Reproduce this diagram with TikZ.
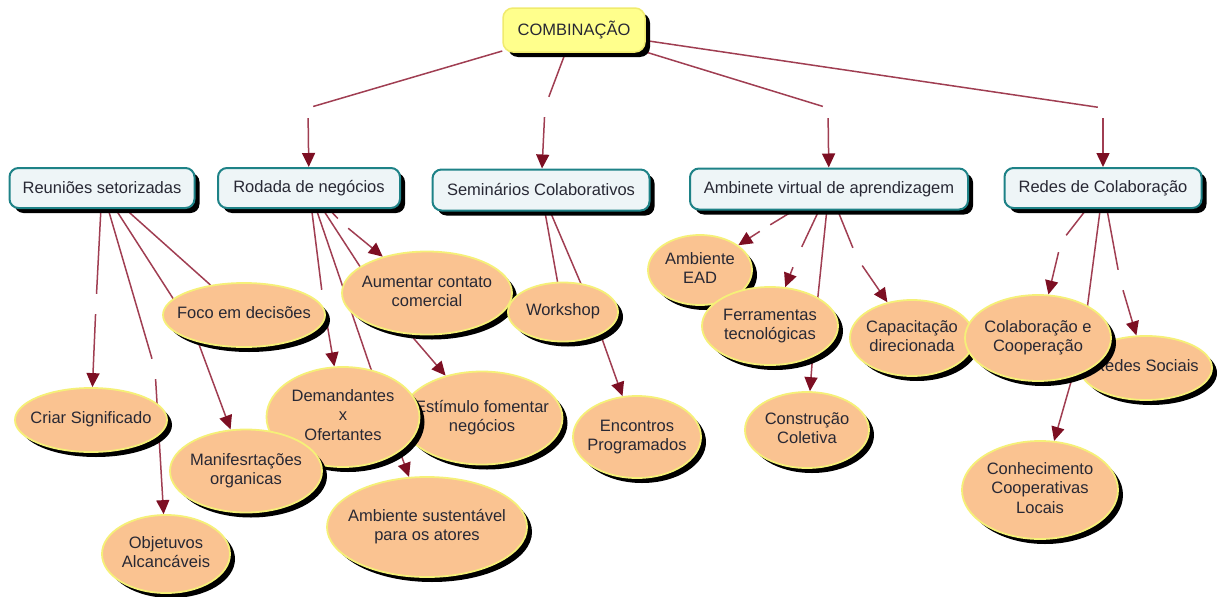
\documentclass[tikz,border=0pt]{standalone}
\usepackage{fontspec}
\setmainfont{Liberation Sans}
\usetikzlibrary{shapes.geometric,arrows.meta,shadows}
\definecolor{combfill}{RGB}{255,255,140}
\definecolor{combdraw}{RGB}{240,235,110}
\definecolor{boxfill}{RGB}{238,245,247}
\definecolor{boxdraw}{RGB}{30,130,135}
\definecolor{ellfill}{RGB}{250,195,145}
\definecolor{elldraw}{RGB}{245,240,120}
\definecolor{txt}{RGB}{40,40,52}
\definecolor{linecol}{RGB}{160,62,82}
\definecolor{arrowcol}{RGB}{125,15,35}
\pgfdeclarelayer{bg}
\pgfsetlayers{bg,main}
\newcommand\ctext[1]{\makebox[0pt]{\begin{tabular}{@{}c@{}}#1\end{tabular}}}
\tikzset{
  shade5/.style={drop shadow={shadow xshift=5pt,shadow yshift=-5pt,fill=black,opacity=1}},
  concept/.style={ellipse,fill=ellfill,draw=elldraw,line width=1.8pt,inner sep=0pt,
    text=txt,font=\fontsize{16.5}{19.5}\selectfont,shade5},
  topic/.style={rectangle,rounded corners=9pt,fill=boxfill,draw=boxdraw,line width=2pt,
    inner sep=0pt,text=txt,font=\fontsize{16.5}{19.5}\selectfont,shade5},
  rootbox/.style={rectangle,rounded corners=10pt,fill=combfill,draw=combdraw,line width=1.5pt,
    inner sep=0pt,text=txt,font=\fontsize{16.5}{19.5}\selectfont,shade5},
  lab/.style={rectangle,inner sep=0pt,minimum width=10pt,minimum height=20pt},
  conn/.style={draw=linecol,line width=1.5pt},
  arr/.style={conn,-{Triangle[length=14pt,width=13pt,color=arrowcol]}},
}
\begin{document}
\begin{tikzpicture}[x=1pt,y=-1pt]
\useasboundingbox (0,0) rectangle (1219,597);
% root and topics
\node[rootbox,minimum width=142pt,minimum height=44pt] (comb) at (574,30) {COMBINAÇÃO};
\node[topic,minimum width=185pt,minimum height=40pt] (reun) at (102,188) {Reuniões setorizadas};
\node[topic,minimum width=182pt,minimum height=40pt] (rod) at (309,188) {Rodada de negócios};
\node[topic,minimum width=217pt,minimum height=41pt] (sem) at (541,190) {Seminários Colaborativos};
\node[topic,minimum width=278pt,minimum height=41pt] (amb) at (829,189) {Ambinete virtual de aprendizagem};
\node[topic,minimum width=197pt,minimum height=40pt] (red) at (1103,188) {Redes de Colaboração};
% concepts
\node[concept,minimum width=152pt,minimum height=64pt] (criar) at (91,420) {\ctext{Criar Significado}};
\node[concept,minimum width=162pt,minimum height=64pt] (foco) at (244,315) {\ctext{Foco em decisões}};
\node[concept,minimum width=128pt,minimum height=78pt] (objet) at (166,554) {\ctext{Objetuvos\\Alcancáveis}};
\node[concept,minimum width=161pt,minimum height=93pt] (estim) at (482,418) {\ctext{Estímulo fomentar\\negócios}};
\node[concept,minimum width=153pt,minimum height=100pt] (dem) at (343,417) {\ctext{Demandantes\\x\\Ofertantes}};
\node[concept,minimum width=152pt,minimum height=83pt] (manif) at (246,471) {\ctext{Manifesrtações\\organicas}};
\node[concept,minimum width=170pt,minimum height=83pt] (aum) at (427,293) {\ctext{Aumentar contato\\comercial}};
\node[concept,minimum width=200pt,minimum height=100pt] (ambsus) at (427,527) {\ctext{Ambiente sustentável\\para os atores}};
\node[concept,minimum width=110pt,minimum height=59pt] (work) at (563,312) {\ctext{Workshop}};
\node[concept,minimum width=128pt,minimum height=82pt] (enc) at (637,437) {\ctext{Encontros\\Programados}};
\node[concept,minimum width=104pt,minimum height=70pt] (ead) at (700,270) {\ctext{Ambiente\\EAD}};
\node[concept,minimum width=136pt,minimum height=78pt] (ferr) at (770,326) {\ctext{Ferramentas\\tecnológicas}};
\node[concept,minimum width=124pt,minimum height=76pt] (constr) at (807,430) {\ctext{Construção\\Coletiva}};
\node[concept,minimum width=124pt,minimum height=76pt] (capac) at (912,338) {\ctext{Capacitação\\direcionada}};
\node[concept,minimum width=132pt,minimum height=64pt] (redsoc) at (1146,368) {\ctext{Redes Sociais}};
\node[concept,minimum width=146pt,minimum height=86pt] (colab) at (1038,338) {\ctext{Colaboração e\\Cooperação}};
\node[concept,minimum width=156pt,minimum height=98pt] (conh) at (1040,490) {\ctext{Conhecimento\\Cooperativas\\Locais}};
% empty link labels
\node[lab] (lrod) at (308,108) {};
\node[lab] (lsem) at (545,107) {};
\node[lab] (lamb) at (828,108) {};
\node[lab] (lred) at (1103,108) {};
\node[lab] (lcri) at (96,304) {};
\node[lab] (lobj) at (155,369) {};
\node[lab] (lman) at (194,331) {};
\node[lab] (ldem) at (323,300) {};
\node[lab] (lsus) at (385,410) {};
\node[lab] (lest) at (385,305) {};
\node[lab] (laum) at (343,224) {};
\node[lab] (lenc) at (590,305) {};
\node[lab] (lead) at (765,228) {};
\node[lab] (lfer) at (797,257) {};
\node[lab] (lcon) at (815,325) {};
\node[lab] (lcap) at (857,258) {};
\node[lab] (lcol) at (1061,242) {};
\node[lab] (lcnh) at (1083,340) {};
\node[lab] (lrs) at (1120,280) {};
% connectors
\begin{pgfonlayer}{bg}
\draw[conn] (comb) -- (lrod); \draw[arr] (lrod) -- (rod);
\draw[conn] (comb) -- (lsem); \draw[arr] (lsem) -- (sem);
\draw[conn] (comb) -- (lamb); \draw[arr] (lamb) -- (amb);
\draw[conn] (comb) -- (lred); \draw[arr] (lred) -- (red);
\draw[conn] (reun) -- (lcri); \draw[arr] (lcri) -- (criar);
\draw[conn] (reun) -- (lobj); \draw[arr] (lobj) -- (objet);
\draw[conn] (reun) -- (lman); \draw[arr] (lman) -- (manif);
\draw[conn] (reun) -- (foco);
\draw[conn] (rod) -- (ldem); \draw[arr] (ldem) -- (dem);
\draw[conn] (rod) -- (lsus); \draw[arr] (lsus) -- (ambsus);
\draw[conn] (rod) -- (lest); \draw[arr] (lest) -- (estim);
\draw[conn] (rod) -- (laum); \draw[arr] (laum) -- (aum);
\draw[conn] (sem) -- (work);
\draw[conn] (sem) -- (lenc); \draw[arr] (lenc) -- (enc);
\draw[conn] (amb) -- (lead); \draw[arr] (lead) -- (ead);
\draw[conn] (amb) -- (lfer); \draw[arr] (lfer) -- (ferr);
\draw[conn] (amb) -- (lcon); \draw[arr] (lcon) -- (constr);
\draw[conn] (amb) -- (lcap); \draw[arr] (lcap) -- (capac);
\draw[conn] (red) -- (lcol); \draw[arr] (lcol) -- (colab);
\draw[conn] (red) -- (lcnh); \draw[arr] (lcnh) -- (conh);
\draw[conn] (red) -- (lrs); \draw[arr] (lrs) -- (redsoc);
\end{pgfonlayer}
\end{tikzpicture}
\end{document}
